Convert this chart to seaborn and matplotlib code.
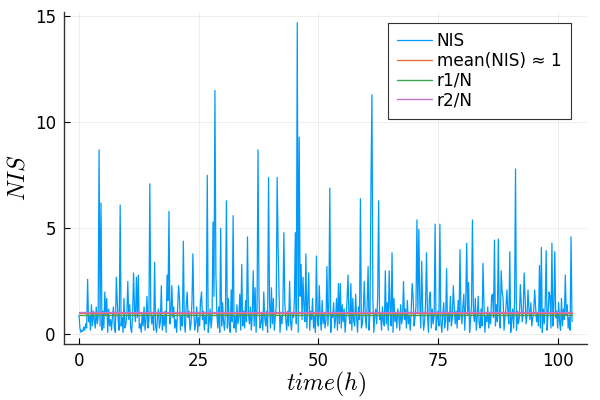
import numpy as np
import pandas as pd
import matplotlib
matplotlib.use("Agg")
import matplotlib.pyplot as plt
import seaborn as sns

# ---------------- data ----------------
t_start, t_end = 0.0, 103.0

nis_base = [
    0.9, 0.3, 0.1, 0.2, 0.15, 0.35, 0.2, 0.5, 0.3, 1.2, 0.6, 0.9, 0.2, 1.4, 0.4, 1.1, 0.7, 0.3, 1.3, 0.5,
    0.8, 1.6, 0.4, 1.0, 0.2, 1.1, 0.3, 1.5, 0.9, 0.6, 0.1, 1.2, 0.4, 0.7, 0.2, 0.9, 1.3, 0.3, 0.1, 0.5,
    1.5, 0.6, 0.2, 1.1, 0.4, 0.8, 0.1, 1.7, 0.3, 0.5, 1.0, 0.2, 0.7, 1.4, 0.3, 0.1, 0.9, 0.4, 1.2, 0.6,
    0.2, 0.8, 1.6, 0.3, 0.5, 0.1, 1.0, 0.4, 1.3, 0.2, 0.7, 1.8, 0.3, 0.6, 0.1, 1.1, 0.5, 0.9, 0.2, 1.4,
    0.4, 0.1, 0.8, 1.2, 0.3, 0.6, 1.5, 0.2, 0.9, 0.4, 1.1, 0.1, 0.7, 1.6, 0.3, 0.5, 1.0, 0.2, 0.8, 1.3,
    0.3, 0.7, 0.1, 1.2, 0.5, 1.7, 0.2, 0.9, 0.4, 1.0, 0.6, 0.1, 1.4, 0.3, 0.8, 1.1, 0.2, 0.5, 1.5, 0.4,
    1.0, 0.2, 0.6, 1.3, 0.1, 0.8, 0.4, 1.6, 0.3, 0.7, 1.1, 0.2, 0.9, 0.5, 1.4, 0.1, 0.6, 1.2, 0.3, 0.8,
    0.5, 1.8, 0.2, 0.7, 1.0, 0.3, 1.3, 0.1, 0.9, 0.4, 1.5, 0.6, 0.2, 1.1, 0.8, 0.3, 1.7, 0.4, 0.1, 1.0,
    0.6, 1.2, 0.3, 0.9, 0.1, 1.4, 0.5, 0.8, 1.9, 0.2, 0.7, 0.4, 1.1, 0.3, 1.6, 0.6, 0.2, 1.0, 0.5, 1.3,
    0.2, 0.9, 1.5, 0.4, 0.7, 0.1, 1.2, 0.6, 1.8, 0.3, 0.5, 1.0, 0.2, 1.4, 0.8, 0.4, 1.1, 0.1, 0.7, 1.6,
    0.3, 1.0, 0.5, 1.7, 0.2, 0.8, 1.3, 0.4, 0.6, 1.9, 0.1, 0.9, 0.5, 1.2, 0.3, 1.5, 0.7, 0.2, 1.1, 0.4,
    1.4, 0.6, 0.2, 1.0, 0.8, 1.6, 0.3, 0.5, 1.2, 0.1, 0.9, 1.8, 0.4, 0.7, 0.2, 1.3, 0.6, 1.0, 0.3, 1.5,
    0.5, 0.2, 1.1, 0.7, 1.7, 0.3, 0.9, 0.1, 1.4, 0.6, 0.4, 1.2, 0.8, 0.2, 1.6, 0.5, 1.0, 0.3, 0.7, 1.9,
    0.4, 1.3, 0.6, 0.1, 1.0, 0.8, 1.5, 0.3, 0.7, 1.1, 0.2, 1.8, 0.5, 0.9, 0.3, 1.4, 0.6, 1.2, 0.1, 0.8,
    1.6, 0.3, 0.9, 0.5, 1.2, 0.2, 1.7, 0.6, 0.4, 1.0, 0.8, 0.1, 1.3, 0.7, 1.5, 0.3, 0.5, 1.1, 0.2, 0.9,
    0.3, 1.4, 0.8, 0.2, 1.1, 0.6, 0.4, 1.6, 0.1, 0.9, 1.2, 0.5, 1.8, 0.3, 0.7, 1.0, 0.2, 1.3, 0.6, 0.4,
    1.1, 0.5, 1.5, 0.2, 0.8, 1.3, 0.4, 0.7, 0.1, 1.7, 0.6, 1.0, 0.3, 1.2, 0.9, 0.2, 1.4, 0.5, 0.8, 0.1,
    0.7, 1.2, 0.3, 1.6, 0.5, 0.9, 0.2, 1.1, 0.6, 1.8, 0.4, 0.8, 1.3, 0.1, 1.0, 0.5, 1.5, 0.3, 0.7, 1.2,
    0.2, 0.6, 1.4, 0.4, 1.0, 0.1, 1.7, 0.8, 0.3, 1.2, 0.5, 0.9, 1.6, 0.2, 0.7, 1.1, 0.4, 1.3, 0.6, 0.1,
    0.9, 1.5, 0.3, 0.7, 1.2, 0.2, 1.0, 0.6, 1.8, 0.4, 0.8, 0.1, 1.3, 0.5, 1.1, 0.3, 1.6, 0.7, 0.2, 1.0,
    0.5, 1.3, 0.8, 0.2, 1.6, 0.4, 0.9, 1.1, 0.1, 0.7, 1.4, 0.3, 1.0, 0.6, 1.7, 0.2, 0.8, 1.2, 0.5, 0.3,
    1.2, 0.4, 0.7, 1.5, 0.1, 0.9, 0.6, 1.3, 0.3, 1.0, 0.5, 1.8, 0.2, 0.8, 1.1, 0.4, 1.4, 0.6, 0.1, 0.9,
    0.3, 1.1, 0.6, 1.7, 0.2, 0.8, 1.3, 0.4, 1.0, 0.5, 1.5, 0.1, 0.7, 1.2, 0.3, 1.6, 0.9, 0.2, 1.1, 0.5,
    0.8, 0.2, 1.4, 0.6, 1.0, 0.3, 1.7, 0.5, 0.9, 0.1, 1.2, 0.7, 1.5, 0.4, 0.8, 1.1, 0.2, 1.3, 0.6, 1.0,
    0.4, 1.6, 0.3, 0.9, 0.1, 1.2, 0.5, 1.4, 0.7, 0.2, 1.0, 0.6, 1.8, 0.3, 0.9, 0.4, 1.3, 0.1, 0.8, 1.1,
    0.3, 1.5, 0.6, 0.2, 1.0, 0.4, 1.2, 0.7, 0.1, 0.9, 1.4, 0.3, 0.8, 0.2, 1.1, 0.6,
]

# spikes: hour, NIS value
peak_hours = [1.8, 4.2, 4.6, 5.4, 5.8, 7.8, 8.6, 10.3, 11.5, 12.1, 12.5, 14.9, 15.9, 17.1,
              18.4, 18.8, 19.4, 20.8, 21.9, 22.6, 23.9, 25.7, 26.8, 28.0, 28.4, 28.6, 29.7,
              30.8, 31.8, 32.3, 33.7, 34.1, 35.2, 36.4, 36.9, 37.4, 38.6, 39.7, 40.2, 41.4,
              41.6, 42.8, 44.0, 45.2, 45.6, 46.0, 46.4, 46.8, 47.4, 48.1, 49.6, 50.2, 51.8,
              52.4, 53.8, 54.2, 54.6, 56.2, 56.8, 57.8, 58.8, 59.6, 60.4, 61.0, 61.2, 62.6,
              64.0, 64.8, 65.4, 67.8, 69.6, 70.6, 71.0, 71.6, 72.6, 73.4, 74.4, 75.4, 76.8,
              78.2, 79.6, 80.4, 81.0, 81.4, 82.2, 83.4, 84.4, 86.4, 86.8, 87.6, 88.2, 88.4,
              89.4, 90.0, 91.2, 92.2, 93.0, 93.8, 95.2, 96.2, 96.6, 97.6, 98.2, 98.8, 99.4,
              100.8, 101.6, 102.8, 103.0]
peak_values = [2.6, 8.7, 6.2, 2.0, 1.7, 2.7, 6.1, 2.5, 2.9, 2.7, 2.8, 7.1, 3.4, 2.3,
               2.8, 5.8, 2.3, 2.3, 4.4, 2.0, 3.8, 2.0, 7.5, 5.3, 11.5, 2.9, 5.0,
               6.3, 2.1, 5.6, 1.9, 3.3, 4.6, 3.0, 2.2, 8.7, 2.0, 7.4, 2.2, 7.4,
               4.2, 4.8, 2.5, 4.8, 14.7, 9.3, 3.3, 2.7, 3.8, 2.9, 3.7, 2.3, 3.2,
               6.9, 1.7, 2.4, 2.4, 2.8, 2.4, 1.9, 6.4, 2.5, 3.2, 7.1, 11.3, 6.3,
               3.0, 3.0, 3.85, 2.5, 2.4, 5.4, 4.95, 3.45, 3.85, 2.0, 5.2, 5.2, 3.1,
               2.3, 4.0, 1.9, 4.3, 2.45, 5.4, 1.8, 3.35, 1.9, 4.45, 4.5, 3.0, 2.0,
               2.1, 3.9, 7.8, 2.35, 2.9, 2.1, 2.1, 3.25, 4.1, 3.95, 2.0, 4.3, 3.9,
               1.7, 2.8, 4.6, 0.6]

mean_nis = 1.0
r1_over_n = 0.93
r2_over_n = 1.08

legend_labels = ["NIS", "mean(NIS) ≈ 1", "r1/N", "r2/N"]
x_ticks = [0, 25, 50, 75, 100]
y_ticks = [0, 5, 10, 15]

# ---------------- build the table ----------------
hours = np.linspace(t_start, t_end, len(nis_base))
nis = np.array(nis_base, dtype=float)
for h, v in zip(peak_hours, peak_values):
    nis[int(np.argmin(np.abs(hours - h)))] = v
df = pd.DataFrame({"time": hours, "NIS": nis})
ends = [t_start, t_end]

# ---------------- style ----------------
sns.set_theme(style="white")
plt.rcParams["font.family"] = ["DejaVu Sans"]
plt.rcParams["mathtext.fontset"] = "cm"
plt.rcParams["text.color"] = "black"
plt.rcParams["axes.labelcolor"] = "black"

fig = plt.figure(figsize=(6, 4), dpi=100)
ax = fig.add_axes([0.107, 0.14, 0.871, 0.83])

c_blue, c_orange, c_green, c_purple = "#009AFA", "#E36F47", "#3EA44E", "#C371D2"

sns.lineplot(data=df, x="time", y="NIS", ax=ax, color=c_blue, lw=0.9,
             label=legend_labels[0], estimator=None)
sns.lineplot(x=ends, y=[mean_nis] * 2, ax=ax, color=c_orange, lw=1.0,
             label=legend_labels[1], estimator=None)
sns.lineplot(x=ends, y=[r1_over_n] * 2, ax=ax, color=c_green, lw=1.0,
             label=legend_labels[2], estimator=None)
sns.lineplot(x=ends, y=[r2_over_n] * 2, ax=ax, color=c_purple, lw=1.0,
             label=legend_labels[3], estimator=None)

ax.set_xlim(-3.09, 106.09)
ax.set_ylim(-0.45, 15.2)
ax.set_xticks(x_ticks)
ax.set_yticks(y_ticks)
ax.grid(True, color="#000000", alpha=0.08, lw=0.6)
ax.tick_params(direction="in", length=4, width=0.8, colors="black",
               labelsize=12, pad=6, bottom=True, left=True)
for s in ["top", "right"]:
    ax.spines[s].set_visible(False)
for s in ["left", "bottom"]:
    ax.spines[s].set_color("#333333")
    ax.spines[s].set_linewidth(1.0)

ax.set_xlabel(r"$time(h)$", fontsize=17, labelpad=0)
ax.set_ylabel(r"$NIS$", fontsize=17, labelpad=4)

leg = ax.legend(loc="upper right", bbox_to_anchor=(0.969, 0.967), fontsize=12.2,
                frameon=True, fancybox=False, framealpha=1, edgecolor="#333333",
                handlelength=2.05, handletextpad=0.3,
                borderpad=0.55, labelspacing=0.1, borderaxespad=0.0)
leg.get_frame().set_linewidth(0.8)
for txt in leg.get_texts():
    txt.set_color("black")

fig.savefig("out.png", dpi=100)
